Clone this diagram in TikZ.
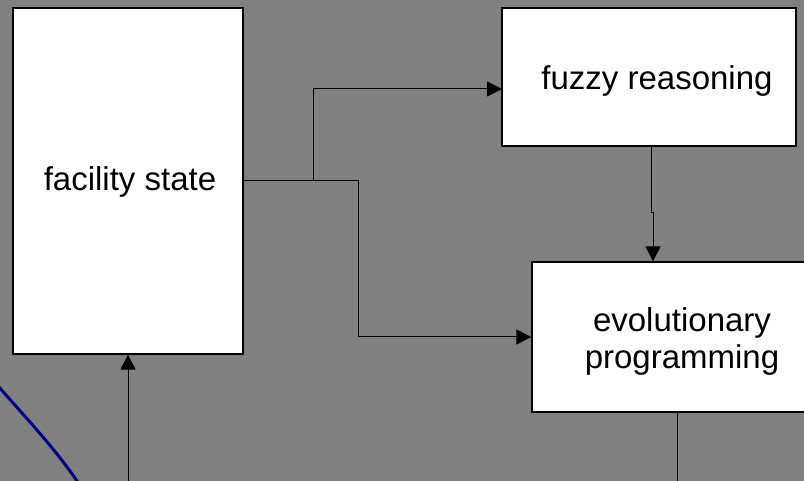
\documentclass[tikz,border=0pt]{standalone}
\usepackage{fontspec}
\setmainfont{Liberation Sans}
\usetikzlibrary{arrows.meta}
\definecolor{bggray}{HTML}{808080}
\definecolor{curveblue}{HTML}{000080}
\begin{document}
\begin{tikzpicture}[x=1pt,y=-1pt,
  box/.style={draw=black, fill=white, line width=1.3pt, rectangle, inner sep=0pt},
  lbl/.style={font=\fontsize{33}{37}\selectfont, align=center, inner sep=0pt},
  conn/.style={draw=black, line width=1pt},
  arr/.style={conn, -{Triangle[length=15pt,width=15pt]}}]
\useasboundingbox (0,0) rectangle (804,481);
\fill[bggray] (0,0) rectangle (804,481);
\clip (0,0) rectangle (804,481);
\node[box, minimum width=230pt, minimum height=346pt] (fac) at (128,181) {};
\node[lbl] (factext) at (130,182) {facility state};
\node[box, minimum width=294pt, minimum height=138pt] (fuzzy) at (649,77) {};
\node[lbl] (fuzzytext) at (657,81) {fuzzy reasoning};
\node[box, minimum width=300pt, minimum height=150pt] (evo) at (682,337) {};
\node[lbl] (evotext) at (682,341) {evolutionary\\programming};
\coordinate (fj) at (313,181);
\coordinate (ej) at (358,181);
\coordinate (fin) at (502,89);
\coordinate (fs) at (651,146);
\coordinate (mid1) at (651,213);
\coordinate (mid2) at (653,213);
\coordinate (bot1) at (128,481);
\coordinate (evob) at (677,412);
\coordinate (bot2) at (677,481);
\draw[arr] (fac.east) -- (fj) |- (fin);
\draw[arr] (fj) -- (ej) |- (evo.west);
\draw[arr] (fs) -- (mid1) -- (mid2) -- (mid2 |- evo.north);
\draw[arr] (bot1) -- (fac.south);
\draw[conn] (evob) -- (bot2);
\draw[curveblue, line width=3pt] (-2,386) .. controls (28,420) and (58,452) .. (79,484);
\end{tikzpicture}
\end{document}
